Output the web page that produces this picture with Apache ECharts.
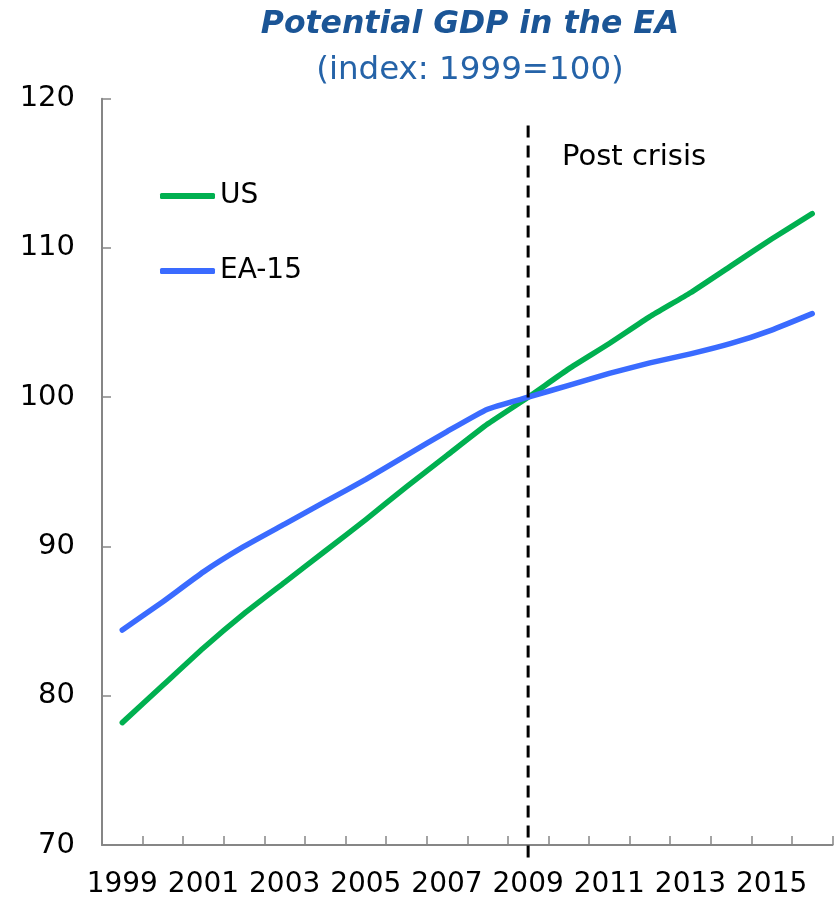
<!DOCTYPE html>
<html>
<head>
<meta charset="utf-8">
<script src="https://cdn.jsdelivr.net/npm/echarts@6/dist/echarts.min.js"></script>
<style>html,body{margin:0;padding:0;background:#fff;}#c{width:837px;height:899px;}</style>
</head>
<body>
<div id="c"></div>
<script>
const years = ['1999','2000','2001','2002','2003','2004','2005','2006','2007','2008','2009','2010','2011','2012','2013','2014','2015','2016'];
const usValues = [78.2, 80.7, 83.2, 85.5, 87.6, 89.7, 91.8, 94.0, 96.1, 98.2, 100.0, 101.9, 103.6, 105.4, 107.0, 108.8, 110.6, 112.3];
const eaValues = [84.4, 86.3, 88.3, 90.0, 91.5, 93.0, 94.5, 96.1, 97.7, 99.2, 100.0, 100.8, 101.6, 102.3, 102.9, 103.6, 104.5, 105.6];
const crisisYear = '2009';
const crisisSpan = [118.2, 68.9];
const yTicks = {min: 70, max: 120, interval: 10};

const chart = echarts.init(document.getElementById('c'));
const font = 'DejaVu Sans, Verdana, sans-serif';
chart.setOption({
  animation: false,
  backgroundColor: '#fff',
  title: [{
    text: 'Potential GDP in the EA',
    left: 465, top: 4, textAlign: 'center',
    textStyle: {fontFamily: font, fontSize: 31.5, fontWeight: 'bold', fontStyle: 'italic', color: '#1B5596'}
  }, {
    text: '(index: 1999=100)',
    left: 465, top: 49, textAlign: 'center',
    textStyle: {fontFamily: font, fontSize: 32.5, fontWeight: 'normal', color: '#2563A8'}
  }],
  legend: [{
    data: ['US'], left: 160, top: 181, padding: 0,
    icon: 'roundRect', itemWidth: 55, itemHeight: 6,
    textStyle: {fontFamily: font, fontSize: 28, color: '#000', lineHeight: 30}
  }, {
    data: ['EA-15'], left: 160, top: 256, padding: 0,
    icon: 'roundRect', itemWidth: 55, itemHeight: 6,
    textStyle: {fontFamily: font, fontSize: 28, color: '#000', lineHeight: 30}
  }],
  grid: {left: 102, right: 4.5, top: 98.7, bottom: 53.7, containLabel: false},
  xAxis: {
    type: 'category', data: years, boundaryGap: true,
    axisLine: {lineStyle: {color: '#868686', width: 2}},
    axisTick: {show: true, inside: true, length: 9, interval: 0, lineStyle: {color: '#868686', width: 1.5}},
    axisLabel: {interval: 1, fontFamily: font, fontSize: 28, color: '#000', margin: 26},
    splitLine: {show: false}
  },
  yAxis: {
    type: 'value', min: yTicks.min, max: yTicks.max, interval: yTicks.interval,
    axisLine: {show: true, lineStyle: {color: '#868686', width: 2}},
    axisTick: {show: true, inside: true, length: 9, lineStyle: {color: '#868686', width: 1.5}},
    axisLabel: {fontFamily: font, fontSize: 29, color: '#000', margin: 27},
    splitLine: {show: false}
  },
  graphic: [{
    type: 'text', left: 562, top: 143,
    style: {text: 'Post crisis', fontFamily: font, fontSize: 29, fill: '#000'}
  }],
  series: [{
    name: 'US', type: 'line', data: usValues, symbol: 'none', smooth: 0.15,
    lineStyle: {color: '#00B050', width: 5.5, cap: 'round', join: 'round'},
    itemStyle: {color: '#00B050'}, z: 3
  }, {
    name: 'EA-15', type: 'line', data: eaValues, symbol: 'none', smooth: 0.15,
    lineStyle: {color: '#3A6BFF', width: 5.5, cap: 'round', join: 'round'},
    itemStyle: {color: '#3A6BFF'}, z: 3
  }, {
    name: 'crisis', type: 'custom', clip: false, z: 5, silent: true,
    data: [[crisisYear, crisisSpan[0], crisisSpan[1]]],
    renderItem: function (params, api) {
      const x = api.value(0);
      const p1 = api.coord([x, api.value(1)]);
      const p2 = api.coord([x, api.value(2)]);
      return {
        type: 'line',
        shape: {x1: p1[0], y1: p1[1], x2: p2[0], y2: p2[1]},
        style: {stroke: '#000', lineWidth: 3, lineDash: [12, 8]}
      };
    }
  }]
});
</script>
</body>
</html>
